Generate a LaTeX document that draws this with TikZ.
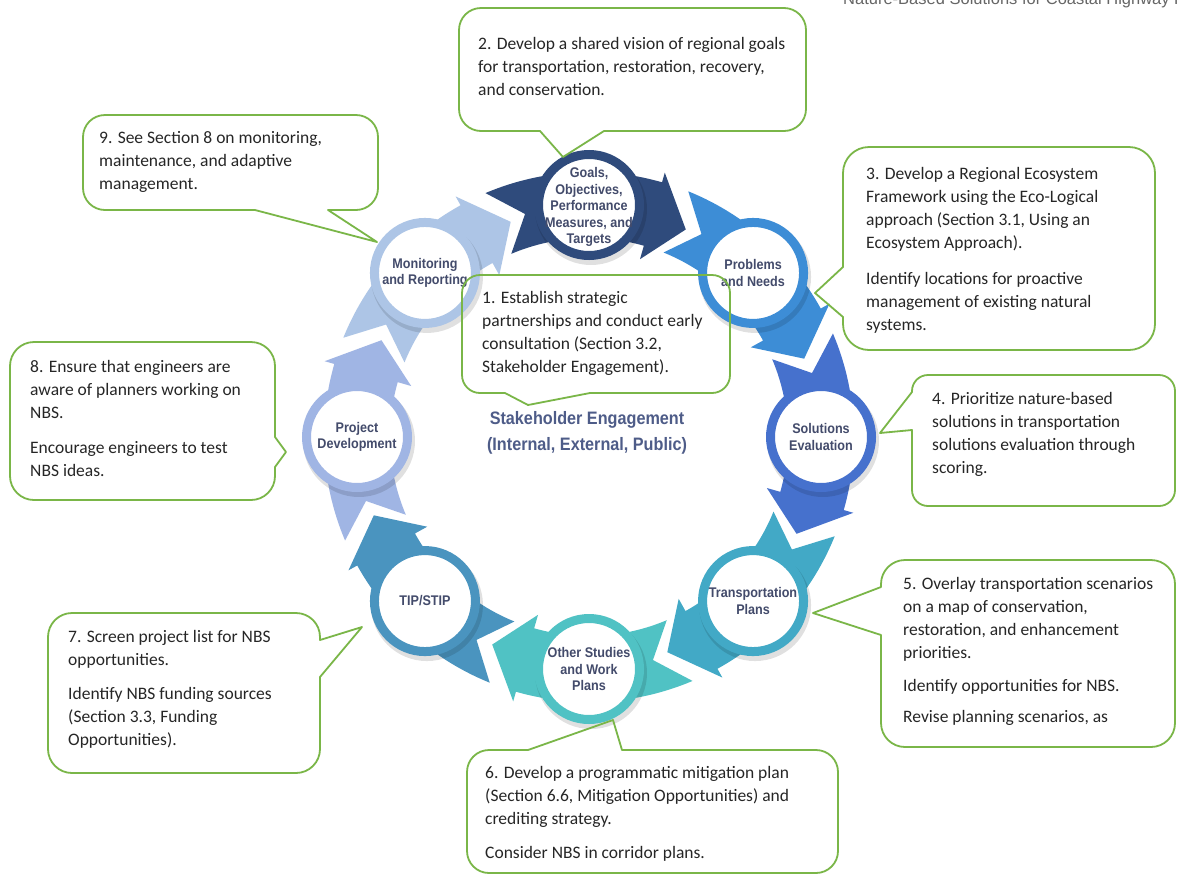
\documentclass[tikz,border=0pt]{standalone}
\usepackage{fontspec}
\usetikzlibrary{calc}
\setmainfont{Carlito}
\newfontfamily\labfont[FakeStretch=0.9]{Liberation Sans}
\newfontfamily\hdrfont{Liberation Sans}
\definecolor{cGoal}{HTML}{2F4B7C}
\definecolor{cProb}{HTML}{3D8DD6}
\definecolor{cSol}{HTML}{4671CD}
\definecolor{cTra}{HTML}{42A9C6}
\definecolor{cOth}{HTML}{50C2C4}
\definecolor{cTip}{HTML}{4A94BF}
\definecolor{cPro}{HTML}{A0B5E4}
\definecolor{cMon}{HTML}{ADC5E6}
\definecolor{cgreen}{HTML}{7AB648}
\definecolor{labc}{HTML}{434B6B}
\definecolor{stc}{HTML}{4E5C88}
\begin{document}
\begin{tikzpicture}[x=1pt,y=-1pt,
  ring/.style={circle, line width=9pt, fill=white, minimum size=101pt, inner sep=0pt},
  lab/.style={font=\labfont\bfseries\fontsize{14}{16.5}\selectfont, text=labc, align=center, inner sep=0pt},
  cbox/.style={draw=cgreen, line width=1.8pt, line join=round},
  ctext/.style={font=\fontsize{17.5}{23}\selectfont, align=left, anchor=north west, inner sep=0pt, text=black!85}]
\useasboundingbox (0,0) rectangle (1177,876);
\clip (0,0) rectangle (1177,876);
\fill[white] (0,0) rectangle (1177,876);

% cycle arrows
\begin{scope}[shift={(589,437)}]
\foreach \a/\c in {-90/cGoal,-45/cProb,0/cSol,45/cTra,90/cOth,135/cTip,180/cPro,225/cMon}{
  \pgfmathsetmacro\ta{\a-23}\pgfmathsetmacro\na{\a-16}\pgfmathsetmacro\ha{\a+16}\pgfmathsetmacro\pa{\a+25}
  \fill[fill=\c] (\ta:265) -- (\na:232) -- (\ta:199) -- plot[domain=\ta:\ha,samples=30] (\x:199) -- (\ha:185) -- (\pa:229) -- (\ha:275) -- plot[domain=\ha:\ta,samples=30] (\x:265) -- cycle;
}
\foreach \a/\c/\n in {-90/cGoal/goal,-45/cProb/prob,0/cSol/sol,45/cTra/tra,90/cOth/oth,135/cTip/tip,180/cPro/pro,225/cMon/mon}{
  \fill[black,opacity=0.12] ($(\a:232)+(2,4)$) circle (56);
  \node[ring, draw=\c] (\n) at (\a:232) {};
}
\end{scope}

% circle labels
\node[lab] (goal-t) at ([yshift=-2pt]goal) {Goals,\\Objectives,\\Performance\\Measures, and\\Targets};
\node[lab] (prob-t) at (prob) {Problems\\and Needs};
\node[lab] (sol-t) at (sol) {Solutions\\Evaluation};
\node[lab] (tra-t) at (tra) {Transportation\\Plans};
\node[lab] (oth-t) at (oth) {Other Studies\\and Work\\Plans};
\node[lab] (tip-t) at (tip) {TIP/STIP};
\node[lab] (pro-t) at (pro) {Project\\Development};
\node[lab] (mon-t) at (mon) {Monitoring\\and Reporting};

\node[font=\labfont\bfseries\fontsize{18}{26}\selectfont, text=stc, align=center, inner sep=0pt] (stake) at (587,433) {Stakeholder Engagement\\(Internal, External, Public)};

% callout boxes
\draw[cbox] (528,405) -- (505,393) [rounded corners=18pt] -- (462,393) -- (462,275) -- (730,275) -- (730,393) [sharp corners] -- (590,393) -- cycle;
\draw[cbox] (563,157) -- (540,131) [rounded corners=22pt] -- (459,131) -- (459,8) -- (806,8) -- (806,131) [sharp corners] -- (604,131) -- cycle;
\draw[cbox] (815,293) -- (843,267) [rounded corners=26pt] -- (843,147) -- (1155,147) -- (1155,350) -- (843,350) [sharp corners] -- (843,317) -- cycle;
\draw[cbox] (880,433) -- (912,392) [rounded corners=16pt] -- (912,375) -- (1175,375) -- (1175,506) -- (912,506) [sharp corners] -- (912,430) -- cycle;
\draw[cbox] (813,613) -- (881,587) [rounded corners=24pt] -- (881,560) -- (1175,560) -- (1175,747) -- (881,747) [sharp corners] -- (881,635) -- cycle;
\draw[cbox] (613,720) -- (622,750) [rounded corners=22pt] -- (838,750) -- (838,873) -- (467,873) -- (467,750) [sharp corners] -- (528,750) -- cycle;
\draw[cbox] (362,627) -- (320,677) [rounded corners=24pt] -- (320,773) -- (48,773) -- (48,613) -- (320,613) [sharp corners] -- (320,640) -- cycle;
\draw[cbox] (286,452) -- (275,467) [rounded corners=24pt] -- (275,500) -- (10,500) -- (10,342) -- (275,342) [sharp corners] -- (275,437) -- cycle;
\draw[cbox] (377,242) -- (328,210) [rounded corners=22pt] -- (378,210) -- (378,115) -- (83,115) -- (83,210) [sharp corners] -- (255,210) -- cycle;

% callout texts
\node[ctext] (t1) at (482,291) {1. Establish strategic\\partnerships and conduct early\\consultation (Section 3.2,\\Stakeholder Engagement).};
\node[ctext] (t2) at (478,37) {2. Develop a shared vision of regional goals\\for transportation, restoration, recovery,\\and conservation.};
\node[ctext] (t3) at (866,167) {3. Develop a Regional Ecosystem\\Framework using the Eco-Logical\\approach (Section 3.1, Using an\\Ecosystem Approach).\\[13pt]Identify locations for proactive\\management of existing natural\\systems.};
\node[ctext] (t4) at (932,392) {4. Prioritize nature-based\\solutions in transportation\\solutions evaluation through\\scoring.};
\node[ctext] (t5) at (903,577) {5. Overlay transportation scenarios\\on a map of conservation,\\restoration, and enhancement\\priorities.\\[10pt]Identify opportunities for NBS.\\[8pt]Revise planning scenarios, as};
\node[ctext] (t6) at (485,766) {6. Develop a programmatic mitigation plan\\(Section 6.6, Mitigation Opportunities) and\\crediting strategy.\\[11pt]Consider NBS in corridor plans.};
\node[ctext] (t7) at (68,630) {7. Screen project list for NBS\\opportunities.\\[11pt]Identify NBS funding sources\\(Section 3.3, Funding\\Opportunities).};
\node[ctext] (t8) at (30,360) {8. Ensure that engineers are\\aware of planners working on\\NBS.\\[12pt]Encourage engineers to test\\NBS ideas.};
\node[ctext] (t9) at (99,131) {9. See Section 8 on monitoring,\\maintenance, and adaptive\\management.};

\node[font=\hdrfont\fontsize{16.5}{18}\selectfont, text=black!60, anchor=base west, inner sep=0pt] (hdr) at (843,4) {Nature-Based Solutions for Coastal Highway Resilience};
\end{tikzpicture}
\end{document}
